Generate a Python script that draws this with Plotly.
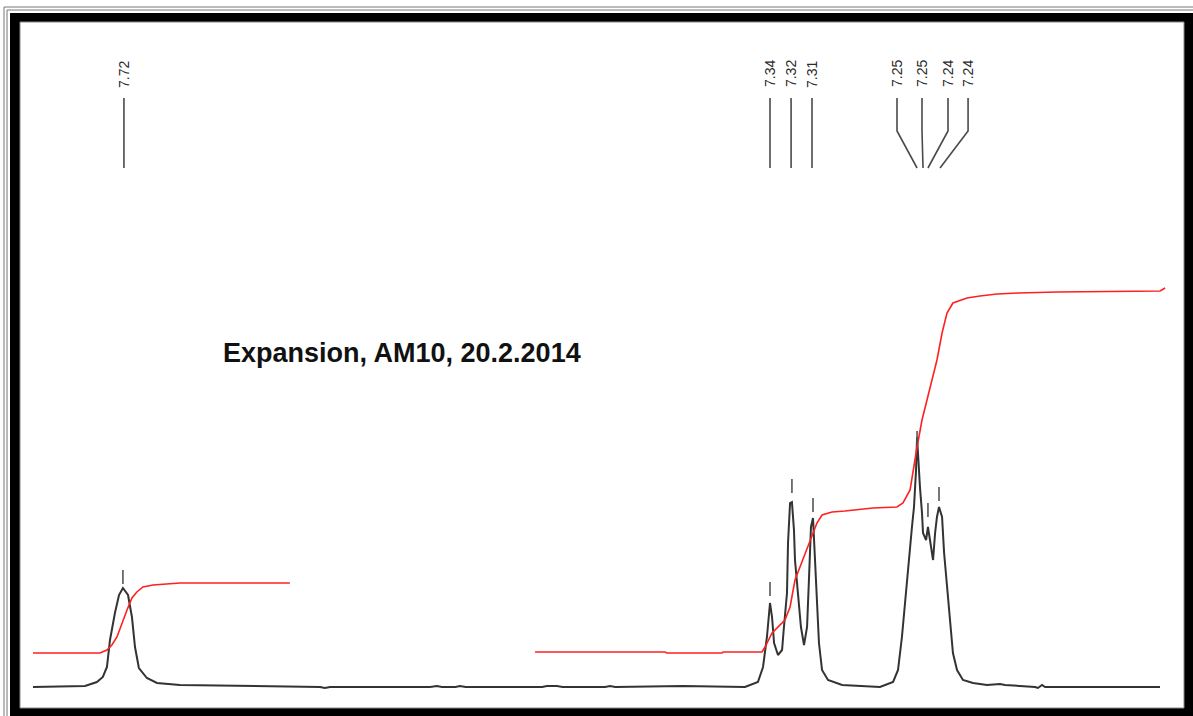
import plotly.graph_objects as go

# ---------------- data (ppm, intensity above baseline) ----------------
spec_ppm = [7.7735, 7.7429, 7.7359, 7.7324, 7.7300, 7.7282, 7.7253, 7.7229, 7.7206, 7.7176,
            7.7153, 7.7135, 7.7112, 7.7065, 7.7006, 7.6871, 7.6047, 7.6018, 7.5988, 7.5400,
            7.5359, 7.5330, 7.5250, 7.5224, 7.5190, 7.4740, 7.4712, 7.4653, 7.4620, 7.4370,
            7.4341, 7.4310, 7.3912, 7.3547, 7.3471, 7.3441, 7.3418, 7.3406, 7.3400, 7.3388,
            7.3376, 7.3353, 7.3329, 7.3318, 7.3300, 7.3294, 7.3282, 7.3271, 7.3259, 7.3253,
            7.3235, 7.3218, 7.3200, 7.3182, 7.3171, 7.3159, 7.3147, 7.3135, 7.3124, 7.3112,
            7.3094, 7.3059, 7.2976, 7.2824, 7.2753, 7.2676, 7.2647, 7.2624, 7.2606, 7.2588,
            7.2565, 7.2553, 7.2541, 7.2535, 7.2529, 7.2518, 7.2506, 7.2500, 7.2482, 7.2471,
            7.2459, 7.2441, 7.2429, 7.2418, 7.2406, 7.2388, 7.2376, 7.2359, 7.2341, 7.2324,
            7.2300, 7.2265, 7.2206, 7.2124, 7.2047, 7.2018, 7.1841, 7.1824, 7.1800, 7.1782,
            7.1106]
spec_int = [0, 1, 5, 10, 20, 47, 74, 92, 99, 92,
            70, 40, 19, 9, 4, 2, 0, -1, 0, 0,
            1, 0, 0, 1, 0, 0, 1, 1, 0, 0,
            1, 0, 1, 0, 5, 20, 50, 77, 84, 70,
            44, 32, 37, 60, 94, 144, 184, 185, 157, 127,
            90, 60, 42, 60, 107, 160, 169, 120, 80, 44,
            17, 7, 2, 1, 0, 5, 17, 50, 84, 124,
            160, 180, 217, 250, 227, 200, 174, 154, 147, 160,
            147, 127, 154, 170, 180, 170, 134, 100, 67, 34,
            17, 7, 4, 2, 3, 2, 0, -1, 2, 0,
            0]

integ1_ppm = [7.7735, 7.7341, 7.7300, 7.7271, 7.7241, 7.7212, 7.7182, 7.7153, 7.7124, 7.7088,
              7.7029, 7.6871, 7.6224]
integ1_int = [34, 34, 37, 42, 50, 64, 77, 89, 95, 100,
              102, 104, 104]

integ2_ppm = [7.4782, 7.4018, 7.4006, 7.3682, 7.3676, 7.3447, 7.3429, 7.3388, 7.3312, 7.3282,
              7.3253, 7.3224, 7.3182, 7.3147, 7.3124, 7.3094, 7.3035, 7.2959, 7.2794, 7.2653,
              7.2618, 7.2576, 7.2559, 7.2535, 7.2506, 7.2476, 7.2447, 7.2418, 7.2388, 7.2359,
              7.2324, 7.2241, 7.2165, 7.2065, 7.1941, 7.1712, 7.1106, 7.1076]
integ2_int = [35, 35, 34, 34, 35, 35, 40, 54, 67, 80,
              107, 120, 137, 154, 164, 172, 175, 176, 179, 180,
              184, 197, 217, 240, 267, 287, 309, 327, 354, 374,
              384, 389, 391, 393, 394, 395, 396, 399]

peak_ppm = [7.7206, 7.3400, 7.3271, 7.3147, 7.2535, 7.2471, 7.2406]
peak_mark = [110, 98, 201, 182, 249, 177, 193]

label_text = ["7.72", "7.34", "7.32", "7.31", "7.25", "7.25", "7.24", "7.24"]
label_ppm = [7.7200, 7.3400, 7.3276, 7.3153, 7.2653, 7.2506, 7.2353, 7.2235]
leader_end_ppm = [7.7200, 7.3400, 7.3276, 7.3153, 7.2535, 7.2500, 7.2471, 7.2400]

title_text = "Expansion, AM10, 20.2.2014"

# ---------------- figure ----------------
W, H = 1193, 716
fig = go.Figure()

# spectrum
fig.add_trace(go.Scatter(x=spec_ppm, y=spec_int, mode="lines",
                         line=dict(color="#333333", width=2), hoverinfo="skip"))
# integrals
fig.add_trace(go.Scatter(x=integ1_ppm, y=integ1_int, mode="lines",
                         line=dict(color="#ff2020", width=1.6), hoverinfo="skip"))
fig.add_trace(go.Scatter(x=integ2_ppm, y=integ2_int, mode="lines",
                         line=dict(color="#ff2020", width=1.6), hoverinfo="skip"))
# small peak-pick dashes
fig.add_trace(go.Scatter(x=peak_ppm, y=peak_mark, mode="markers",
                         marker=dict(symbol="line-ns", size=10,
                                     line=dict(color="#555555", width=1.6)),
                         hoverinfo="skip"))

# leader lines from labels to peaks
top_y, knee_y, bot_y = 589, 556, 519
lx, ly = [], []
for lp, ep in zip(label_ppm, leader_end_ppm):
    if abs(lp - ep) < 1e-9:
        lx += [lp, ep, None]
        ly += [top_y, bot_y, None]
    else:
        lx += [lp, lp, ep, None]
        ly += [top_y, knee_y, bot_y, None]
fig.add_trace(go.Scatter(x=lx, y=ly, mode="lines",
                         line=dict(color="#4a4a4a", width=1.6), hoverinfo="skip"))

# labels
for t, lp in zip(label_text, label_ppm):
    fig.add_annotation(x=lp, y=613, xref="x", yref="y", text=t, showarrow=False,
                       textangle=-90, font=dict(family="Liberation Sans, Arial, sans-serif",
                                                size=14, color="#2a2a2a"))

# title text
fig.add_annotation(x=221 / W, y=1 - 353 / H, xref="paper", yref="paper",
                   xanchor="left", yanchor="middle", text="<b>" + title_text + "</b>",
                   showarrow=False,
                   font=dict(family="Liberation Sans, Arial, sans-serif", size=27, color="#111111"))

# frame
def px(x):
    return x / W

def py(y):
    return 1 - y / H

shapes = [
    dict(type="rect", xref="paper", yref="paper", x0=px(4), y0=py(7), x1=px(1200), y1=py(730),
         line=dict(color="#777777", width=1), fillcolor="rgba(0,0,0,0)", layer="below"),
    dict(type="rect", xref="paper", yref="paper", x0=px(7), y0=py(10), x1=px(1200), y1=py(730),
         line=dict(color="#777777", width=1), fillcolor="rgba(0,0,0,0)", layer="below"),
    dict(type="rect", xref="paper", yref="paper", x0=px(10), y0=py(13), x1=px(1200), y1=py(730),
         line=dict(width=0), fillcolor="black", layer="below"),
    dict(type="rect", xref="paper", yref="paper", x0=px(20), y0=py(22), x1=px(1184), y1=py(708),
         line=dict(color="#888888", width=1), fillcolor="white", layer="below"),
]

fig.update_layout(
    width=W, height=H,
    margin=dict(l=0, r=0, t=0, b=0),
    paper_bgcolor="white", plot_bgcolor="white",
    showlegend=False,
    shapes=shapes,
    xaxis=dict(range=[7.7929, 7.0912], visible=False, showgrid=False, zeroline=False),
    yaxis=dict(range=[-29, 687], visible=False, showgrid=False, zeroline=False),
)

fig.write_html("out.html",
               config={"displayModeBar": False},
               post_script="document.body.style.margin='0px';"
                           "document.body.style.overflow='hidden';")
